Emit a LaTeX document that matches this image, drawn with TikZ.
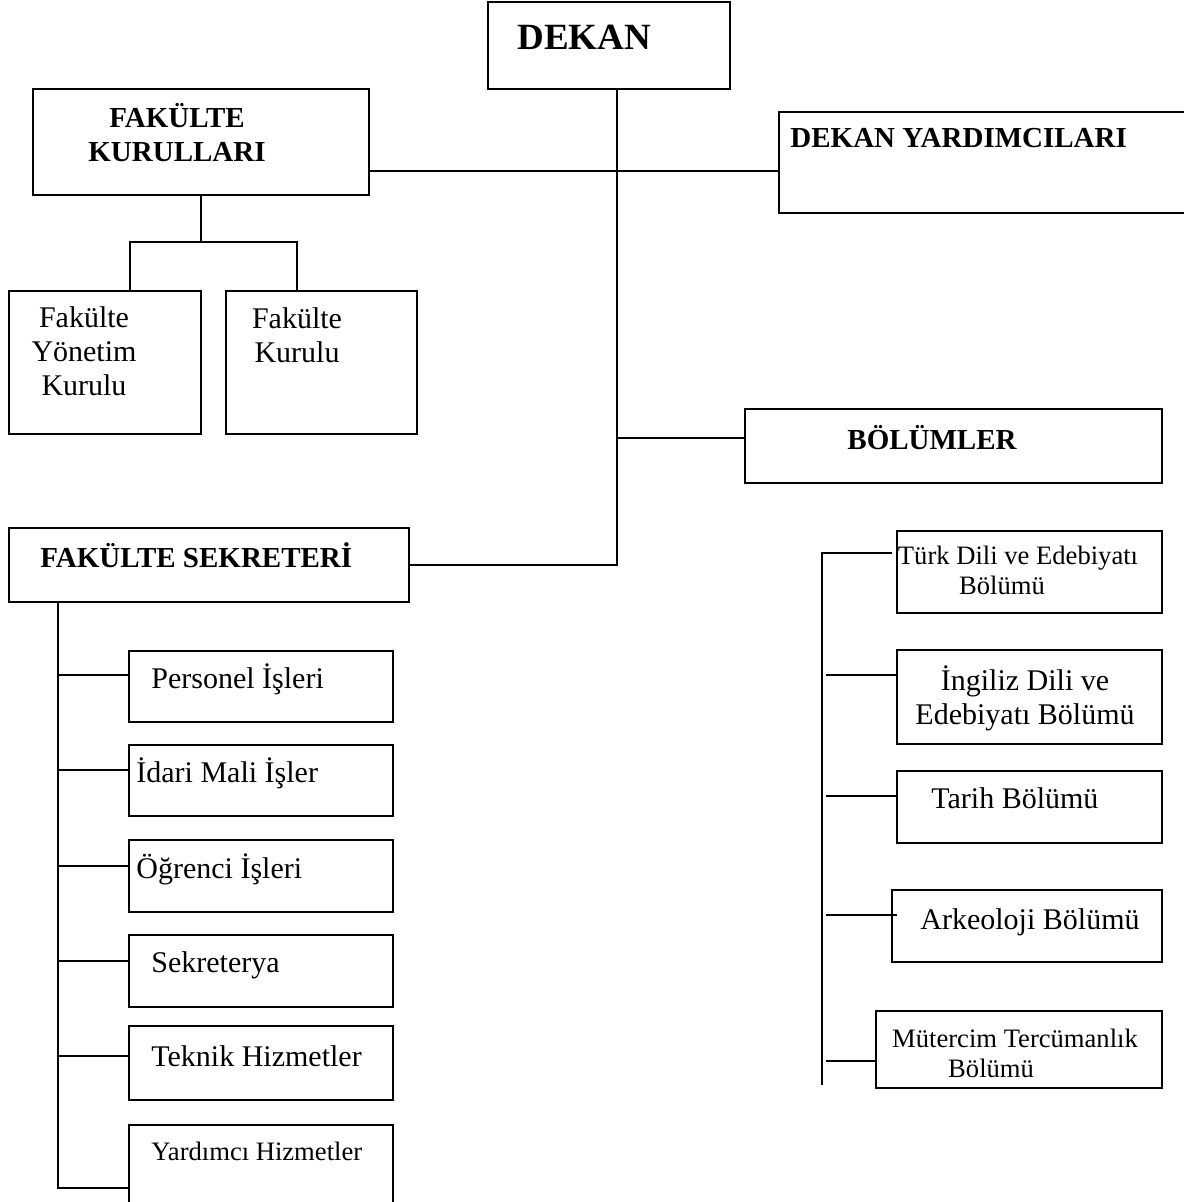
\documentclass[tikz,border=0pt]{standalone}
\usepackage{fontspec}
\setmainfont{Liberation Serif}
\usetikzlibrary{fit}
\begin{document}
\begin{tikzpicture}[x=0.5pt,y=-0.5pt,
  box/.style={draw, line width=1pt, inner sep=0pt},
  conn/.style={line width=1pt},
  txt/.style={inner sep=0pt, anchor=base, align=center, font=\fontsize{15}{17}\selectfont},
  txtl/.style={inner sep=0pt, anchor=base west, font=\fontsize{15}{17}\selectfont},
  sml/.style={inner sep=0pt, anchor=base, align=center, font=\fontsize{13.3}{14.6}\selectfont},
  smll/.style={inner sep=0pt, anchor=base west, font=\fontsize{13.3}{14.6}\selectfont},
  hd/.style={inner sep=0pt, anchor=base west, font=\fontsize{14.5}{17}\selectfont\bfseries},
  hdc/.style={inner sep=0pt, anchor=base, align=center, font=\fontsize{14.5}{17}\selectfont\bfseries}]
\useasboundingbox (0,0) rectangle (1183,1202);

% ---- boxes ----
\node[box, fit={(488,2) (730,89)}] (dekan) {};
\node[box, fit={(33,89) (369,195)}] (fk) {};
\node[box, fit={(779,112) (1210,213)}] (dy) {};
\node[box, fit={(9,291) (201,434)}] (fyk) {};
\node[box, fit={(226,291) (417,434)}] (fkr) {};
\node[box, fit={(745,409) (1162,483)}] (bol) {};
\node[box, fit={(9,528) (409,602)}] (sekr) {};

\node[box, fit={(129,651) (393,722)}] (per) {};
\node[box, fit={(129,745) (393,816)}] (ida) {};
\node[box, fit={(129,840) (393,912)}] (ogr) {};
\node[box, fit={(129,935) (393,1007)}] (sek) {};
\node[box, fit={(129,1026) (393,1100)}] (tek) {};
\node[box, fit={(129,1125) (393,1230)}] (yar) {};

\node[box, fit={(897,531) (1162,613)}] (tur) {};
\node[box, fit={(897,650) (1162,744)}] (ing) {};
\node[box, fit={(897,771) (1162,843)}] (tar) {};
\node[box, fit={(892,890) (1162,962)}] (ark) {};
\node[box, fit={(876,1011) (1162,1088)}] (mut) {};

% ---- texts ----
\node[inner sep=0pt, anchor=base west, font=\fontsize{18.5}{20}\selectfont\bfseries] (tdekan) at (517,50) {DEKAN};
\node[hdc] (tfk) at (177,162) {FAKÜLTE\\KURULLARI};
\node[hd] (tdy) at (790,148) {DEKAN YARDIMCILARI};
\node[txt] (tfyk) at (84,396) {Fakülte\\Yönetim\\Kurulu};
\node[txt] (tfkr) at (297,363) {Fakülte\\Kurulu};
\node[hd] (tbol) at (847,450) {BÖLÜMLER};
\node[hd] (tsekr) at (40,567) {FAKÜLTE SEKRETERİ};

\node[txtl] (tper) at (151,688) {Personel İşleri};
\node[txtl] (tida) at (136,782) {İdari Mali İşler};
\node[txtl] (togr) at (136,878) {Öğrenci İşleri};
\node[txtl] (tsek) at (151,972) {Sekreterya};
\node[txtl] (ttek) at (151,1066) {Teknik Hizmetler};
\node[smll] (tyar) at (151,1160) {Yardımcı Hizmetler};

\node[sml] (ttur) at (1018,594) {Türk Dili ve Edebiyatı\\\hspace*{-1.2em}Bölümü};
\node[txt] (ting) at (1025,724) {İngiliz Dili ve\\Edebiyatı Bölümü};
\node[txtl] (ttar) at (931,808) {Tarih Bölümü};
\node[txtl] (tark) at (920,929) {Arkeoloji Bölümü};
\node[sml] (tmut) at (1015,1077) {Mütercim Tercümanlık\\\hspace*{-1.8em}Bölümü};

% ---- connectors ----
\coordinate (trunk) at (617,0);
\coordinate (hA) at (0,171);
\coordinate (hB) at (0,438);
\draw[conn] (dekan.south -| trunk) |- (sekr.east);
\draw[conn] (fk.east |- hA) -- (dy.west |- hA);
\draw[conn] (trunk |- hB) -- (bol.west |- hB);

\coordinate (kx) at (201,0);
\coordinate (kj) at (0,242);
\coordinate (ka) at (130,0);
\coordinate (kb) at (297,0);
\draw[conn] (fk.south -| kx) -- (kx |- kj);
\draw[conn] (fyk.north -| ka) -- (ka |- kj) -- (kb |- kj) -- (fkr.north -| kb);

% left tree
\coordinate (lt) at (58,0);
\coordinate (lend) at (58,1188);
\draw[conn] (sekr.south -| lt) -- (lend) -- (yar.west |- lend);
\foreach \b/\y in {per/675, ida/770, ogr/866, sek/961, tek/1056}{
  \draw[conn] (58,\y) -- (\b.west |- 0,\y);
}

% right tree
\coordinate (rtop) at (822,553);
\coordinate (rbot) at (822,1085);
\coordinate (r1) at (892,553);
\draw[conn] (r1) -- (rtop) -- (rbot);
\coordinate (ing1) at (826,675);
\coordinate (tar1) at (826,796);
\coordinate (ark1) at (826,915);
\coordinate (ark2) at (897,915);
\coordinate (mut1) at (826,1061);
\draw[conn] (ing1) -- (ing.west |- ing1);
\draw[conn] (tar1) -- (tar.west |- tar1);
\draw[conn] (ark1) -- (ark2);
\draw[conn] (mut1) -- (mut.west |- mut1);
\end{tikzpicture}
\end{document}
